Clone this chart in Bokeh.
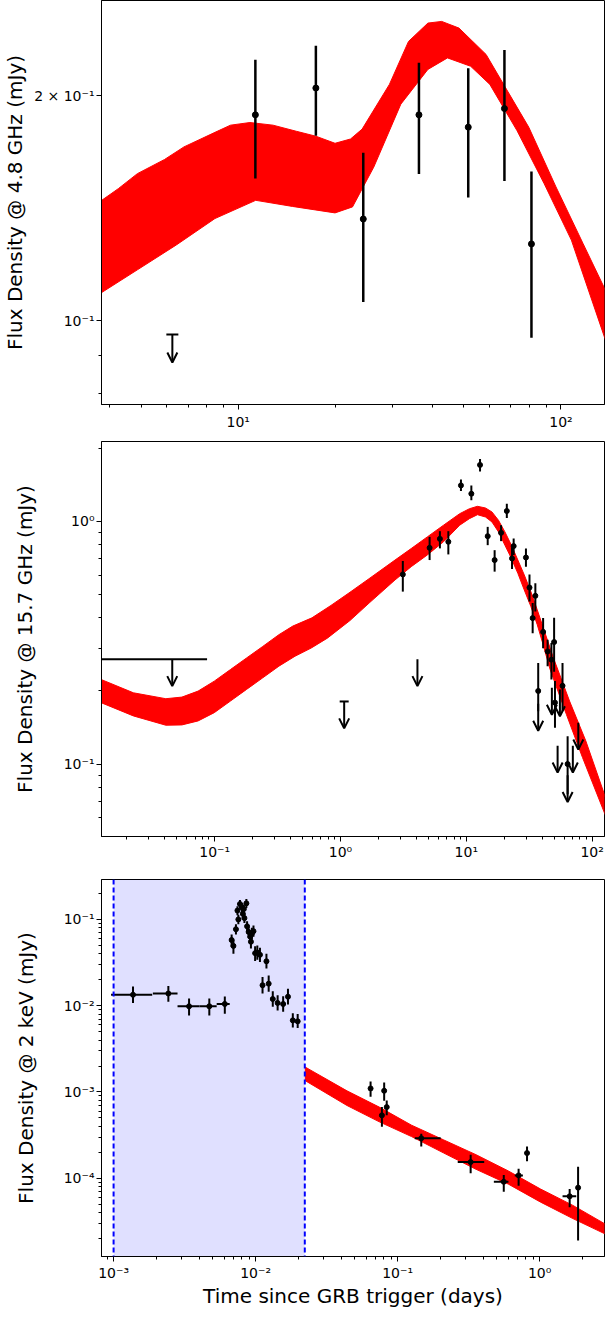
import math
from bokeh.plotting import figure
from bokeh.layouts import column
from bokeh.models import (ColumnDataSource, FixedTicker, CustomJSTickFormatter, Range1d,
                          Arrow, OpenHead, BoxAnnotation, Span)
from bokeh.embed import file_html
from bokeh.resources import INLINE

FONT = "DejaVu Sans"

# ---------------- Panel 1 : 4.8 GHz ----------------
r48_t = [11.3, 17.4, 24.4, 36.3, 51.6, 66.8, 81.0]
r48_f = [0.1885, 0.2047, 0.1368, 0.1885, 0.1815, 0.1922, 0.1267]
r48_lo = [0.155, 0.1768, 0.1060, 0.1571, 0.1462, 0.1538, 0.0949]
r48_hi = [0.2234, 0.2331, 0.1678, 0.2213, 0.2175, 0.2302, 0.1583]
r48_ul_t = [6.25]
r48_ul_f = [0.0959]

band48_up_t = [3.7, 4.25, 4.87, 5.91, 6.79, 8.47, 9.46, 10.87, 12.82, 15.14, 17.4, 19.95,
               22.28, 24.2, 29.4, 33.7, 38.7, 42.7, 48.3, 58.6, 67.3, 79.5, 96.5, 117, 140]
band48_up_f = [0.1440, 0.1502, 0.1573, 0.1643, 0.1708, 0.1786, 0.1826, 0.1841, 0.1826, 0.1792,
               0.1765, 0.1727, 0.175, 0.1804, 0.207, 0.2363, 0.25, 0.2513, 0.2462, 0.227, 0.205,
               0.1814, 0.151, 0.1269, 0.108]
band48_lo_t = [3.7, 4.87, 6.43, 8.47, 11.33, 14.72, 19.95, 22.6, 26.3, 31.9, 38.7, 44.5, 52.5,
               60.2, 73.1, 88.7, 107.7, 140]
band48_lo_f = [0.1085, 0.117, 0.1263, 0.137, 0.1449, 0.1422, 0.1394, 0.142, 0.1605, 0.1948,
               0.2168, 0.2246, 0.2189, 0.207, 0.1795, 0.1525, 0.1282, 0.092]

p1_xticks = [10, 100]
p1_xlabels = ["10¹", "10²"]
p1_yticks = [0.1, 0.2]
p1_ylabels = ["10⁻¹", "2 × 10⁻¹"]

# ---------------- Panel 2 : 15.7 GHz ----------------
r157_t = [3.13, 5.11, 6.17, 7.2, 9.07, 10.97, 12.86, 14.8, 16.8, 18.9, 21.0, 23.1, 23.8, 29.8,
          31.8, 33.7, 35.4, 37.3, 40.8, 44.3, 47.5, 49.9, 50.7, 58.2, 63.9]
r157_f = [0.604, 0.777, 0.846, 0.823, 1.405, 1.298, 1.706, 0.868, 0.692, 0.896, 1.102, 0.703,
          0.79, 0.709, 0.533, 0.399, 0.493, 0.2, 0.35, 0.291, 0.269, 0.318, 0.179, 0.21, 0.1]
r157_lo = [0.513, 0.692, 0.773, 0.73, 1.331, 1.219, 1.603, 0.797, 0.62, 0.828, 1.031, 0.636,
           0.726, 0.65, 0.467, 0.346, 0.425, 0.165, 0.30, 0.253, 0.223, 0.24, 0.141, 0.165, 0.075]
r157_hi = [0.686, 0.862, 0.91, 0.91, 1.486, 1.405, 1.806, 0.948, 0.76, 0.963, 1.18, 0.778,
           0.849, 0.772, 0.604, 0.46, 0.555, 0.261, 0.399, 0.325, 0.315, 0.40, 0.22, 0.261, 0.13]
r157_ul_t = [0.046, 1.07, 4.09, 37.3, 47.9, 55.5, 53.2, 63.9, 70.3, 77.7]
r157_ul_f = [0.27, 0.181, 0.27, 0.177, 0.206, 0.203, 0.119, 0.09, 0.119, 0.148]
r157_ul_tlo = [0.005]
r157_ul_thi = [0.087]
r157_cap_t = [1.07]
r157_cap_f = [0.181]

band157_up_t = [0.0125, 0.0226, 0.0409, 0.0549, 0.0738, 0.0993, 0.1334, 0.1794, 0.241, 0.324,
                0.418, 0.593, 0.84, 1.19, 1.687, 2.713, 3.65, 4.90, 6.59, 8.86, 10.59, 12.27,
                14.21, 16.0, 18.03, 20.28, 22.83, 25.7, 28.9, 32.6, 36.65, 49.3, 66.2, 89.1, 130]
band157_up_f = [0.223, 0.1965, 0.1858, 0.1887, 0.1997, 0.2195, 0.245, 0.2735, 0.305, 0.341,
                0.37, 0.40, 0.45, 0.51, 0.58, 0.692, 0.772, 0.862, 0.963, 1.074, 1.126, 1.152,
                1.134, 1.092, 1.009, 0.904, 0.797, 0.692, 0.601, 0.513, 0.4316, 0.2735, 0.1817,
                0.1246, 0.071]
band157_lo_t = [0.0125, 0.0226, 0.0409, 0.0549, 0.0738, 0.0993, 0.1334, 0.1794, 0.241, 0.324,
                0.435, 0.586, 0.787, 1.19, 1.687, 2.713, 3.65, 4.90, 6.59, 8.86, 10.59, 12.27,
                14.21, 16.0, 18.03, 20.28, 22.83, 25.7, 28.9, 32.6, 36.65, 40.1, 46.4, 62.5,
                83.9, 130]
band157_lo_f = [0.179, 0.1578, 0.1445, 0.1449, 0.1505, 0.1628, 0.1817, 0.203, 0.2265, 0.253,
                0.278, 0.3006, 0.330, 0.39, 0.46, 0.573, 0.650, 0.726, 0.823, 0.963, 1.025,
                1.064, 1.041, 0.993, 0.904, 0.797, 0.703, 0.610, 0.521, 0.4455, 0.375, 0.320,
                0.245, 0.160, 0.1064, 0.060]

p2_xticks = [0.1, 1, 10, 100]
p2_xlabels = ["10⁻¹", "10⁰", "10¹", "10²"]
p2_yticks = [0.1, 1]
p2_ylabels = ["10⁻¹", "10⁰"]

# ---------------- Panel 3 : 2 keV ----------------
x3e_t = [1.37e-3, 2.43e-3, 3.40e-3, 4.72e-3, 6.07e-3]
x3e_tlo = [0.96e-3, 1.89e-3, 2.82e-3, 4.03e-3, 5.32e-3]
x3e_thi = [1.87e-3, 2.82e-3, 4.03e-3, 5.32e-3, 6.57e-3]
x3e_f = [0.01338, 0.01384, 0.00984, 0.00984, 0.01048]
x3e_lo = [0.01076, 0.0111, 0.0077, 0.0077, 0.00806]
x3e_hi = [0.01665, 0.0169, 0.01213, 0.01213, 0.0128]

fl_t = [6.78e-3, 6.98e-3, 7.27e-3, 7.56e-3, 7.45e-3, 7.76e-3, 8.0e-3, 8.13e-3, 8.34e-3, 8.61e-3,
        8.26e-3, 8.71e-3, 8.93e-3, 9.17e-3, 9.41e-3, 9.66e-3, 9.27e-3, 9.92e-3, 0.01028, 0.01073,
        0.01192, 0.01119, 0.01236, 0.01321, 0.01429, 0.01563, 0.0169, 0.01828, 0.01978]
fl_f = [0.0577, 0.0493, 0.0769, 0.1, 0.1266, 0.1507, 0.138, 0.116, 0.1035, 0.1535, 0.132,
        0.0832, 0.0716, 0.063, 0.0686, 0.073, 0.0551, 0.0406, 0.0413, 0.0389, 0.0327, 0.01726,
        0.018, 0.01195, 0.01076, 0.01047, 0.0127, 0.00676, 0.00659]
fl_lo = [0.048, 0.040, 0.067, 0.088, 0.112, 0.134, 0.122, 0.102, 0.091, 0.136, 0.116, 0.072,
         0.061, 0.053, 0.058, 0.063, 0.046, 0.033, 0.034, 0.032, 0.027, 0.0138, 0.0145, 0.0097,
         0.0088, 0.0085, 0.0103, 0.0056, 0.0055]
fl_hi = [0.067, 0.058, 0.088, 0.113, 0.142, 0.168, 0.155, 0.131, 0.117, 0.172, 0.149, 0.095,
         0.083, 0.074, 0.080, 0.085, 0.065, 0.049, 0.050, 0.047, 0.040, 0.0215, 0.0224, 0.0147,
         0.0132, 0.0129, 0.0157, 0.0082, 0.0080]

x3l_t = [0.0645, 0.0804, 0.0838, 0.0775, 0.1467, 0.3267, 0.559, 0.711, 0.815, 1.627, 1.865]
x3l_tlo = [0.0645, 0.0804, 0.0838, 0.0775, 0.132, 0.265, 0.476, 0.668, 0.815, 1.45, 1.865]
x3l_thi = [0.0645, 0.0804, 0.0838, 0.0775, 0.201, 0.407, 0.603, 0.762, 0.815, 1.81, 1.865]
x3l_f = [1.099e-3, 1.033e-3, 6.68e-4, 5.36e-4, 2.91e-4, 1.54e-4, 9.1e-5, 1.08e-4, 1.96e-4,
         6.18e-5, 7.78e-5]
x3l_lo = [8.82e-4, 7.94e-4, 5.36e-4, 3.95e-4, 2.34e-4, 1.14e-4, 7.0e-5, 8.2e-5, 1.58e-4,
          4.6e-5, 1.9e-5]
x3l_hi = [1.32e-3, 1.29e-3, 7.99e-4, 6.68e-4, 3.29e-4, 1.87e-4, 1.09e-4, 1.29e-4, 2.34e-4,
          7.5e-5, 1.36e-4]

band2k_up_t = [0.0224, 0.044, 0.0743, 0.1254, 0.2114, 0.3566, 0.6026, 1.016, 1.714, 3.0]
band2k_up_f = [1.94e-3, 1.03e-3, 6.68e-4, 4.12e-4, 2.78e-4, 1.876e-4, 1.215e-4, 7.5e-5, 4.85e-5,
               2.85e-5]
band2k_lo_t = [0.0224, 0.044, 0.0743, 0.1254, 0.2114, 0.3566, 0.6026, 1.016, 1.714, 3.0]
band2k_lo_f = [1.35e-3, 6.97e-4, 4.51e-4, 3.04e-4, 1.96e-4, 1.27e-4, 8.55e-5, 5.29e-5, 3.41e-5,
               2.2e-5]

shade_t = [1.0e-3, 0.0222]

p3_xticks = [1e-3, 1e-2, 1e-1, 1]
p3_xlabels = ["10⁻³", "10⁻²", "10⁻¹", "10⁰"]
p3_yticks = [1e-4, 1e-3, 1e-2, 1e-1]
p3_ylabels = ["10⁻⁴", "10⁻³", "10⁻²", "10⁻¹"]


# ---------------- helpers ----------------
FMT_CODE = """
let best = -1, bd = 1e9;
for (let i = 0; i < tv.length; i++) {
  const d = Math.abs(Math.log10(tick) - Math.log10(tv[i]));
  if (d < bd) { bd = d; best = i; }
}
return (best >= 0 && bd < 1e-6) ? tl[best] : "";
"""


def minor_ticks(lo, hi, majors):
    out = []
    for e in range(int(math.floor(math.log10(lo))) - 1, int(math.ceil(math.log10(hi))) + 1):
        for m in range(1, 10):
            v = m * 10 ** e
            if lo <= v <= hi and all(abs(math.log10(v) - math.log10(M)) > 1e-6 for M in majors):
                out.append(v)
    return out


def make_fig(height, top, bottom, left, right, xr, yr, xt, xl, yt, yl, ylabel, ystand,
             xstand=2, xlabel=None):
    p = figure(width=608, height=height, x_axis_type="log", y_axis_type="log",
               x_range=Range1d(*xr), y_range=Range1d(*yr),
               min_border_top=top, min_border_bottom=bottom,
               min_border_left=left, min_border_right=right,
               output_backend="svg", toolbar_location=None, tools="")
    p.grid.visible = False
    p.background_fill_color = "white"
    p.border_fill_color = "white"
    p.outline_line_color = "black"
    p.outline_line_alpha = 1.0
    p.outline_line_width = 1
    p.xaxis.ticker = FixedTicker(ticks=xt, minor_ticks=minor_ticks(xr[0], xr[1], xt))
    p.yaxis.ticker = FixedTicker(ticks=yt, minor_ticks=minor_ticks(yr[0], yr[1], yt))
    p.xaxis.formatter = CustomJSTickFormatter(args=dict(tv=xt, tl=xl), code=FMT_CODE)
    p.yaxis.formatter = CustomJSTickFormatter(args=dict(tv=yt, tl=yl), code=FMT_CODE)
    for ax in (p.xaxis, p.yaxis):
        ax.axis_line_color = "black"
        ax.major_tick_line_color = "black"
        ax.minor_tick_line_color = "black"
        ax.major_tick_out = 5
        ax.major_tick_in = 0
        ax.minor_tick_out = 3
        ax.minor_tick_in = 0
        ax.major_label_text_font = FONT
        ax.major_label_text_font_size = "14px"
        ax.major_label_text_color = "black"
        ax.major_label_standoff = 2
        ax.axis_label_text_font = FONT
        ax.axis_label_text_font_size = "20px"
        ax.axis_label_text_font_style = "normal"
        ax.axis_label_text_color = "black"
    p.xaxis.major_label_standoff = xstand
    p.yaxis.axis_label = ylabel
    p.yaxis.axis_label_standoff = ystand
    if xlabel:
        p.xaxis.axis_label = xlabel
        p.xaxis.axis_label_standoff = 0
    return p


def band(p, up_t, up_f, lo_t, lo_f):
    p.patch(x=list(up_t) + list(lo_t)[::-1], y=list(up_f) + list(lo_f)[::-1],
            fill_color="red", line_color="red", line_width=1)


def arrow_factor(height, top, bottom, yr, px):
    decade = (height - top - bottom) / math.log10(yr[1] / yr[0])
    return 10 ** (-px / decade)


def uplims(p, t, f, fac, lw=2):
    src = ColumnDataSource(dict(x=t, y0=f, y1=[v * fac for v in f]))
    p.add_layout(Arrow(end=OpenHead(size=10, line_width=lw, line_color="black"),
                       x_start="x", y_start="y0", x_end="x", y_end="y1", source=src,
                       line_width=lw, line_color="black"))


# ---------------- Panel 1 ----------------
H1, T1, B1 = 432, 0, 28
xr1, yr1 = (3.77, 136.4), (0.0773, 0.268)
p1 = make_fig(H1, T1, B1, 95, 4, xr1, yr1, p1_xticks, p1_xlabels, p1_yticks, p1_ylabels,
              "Flux Density @ 4.8 GHz (mJy)", 4, xstand=4)
band(p1, band48_up_t, band48_up_f, band48_lo_t, band48_lo_f)
p1.segment(x0=r48_t, y0=r48_lo, x1=r48_t, y1=r48_hi, line_color="black", line_width=2.5)
p1.scatter(r48_t, r48_f, size=6, color="black")
uplims(p1, r48_ul_t, r48_ul_f, arrow_factor(H1, T1, B1, yr1, 28), lw=2)
p1.scatter(r48_ul_t, r48_ul_f, marker="dash", size=12, line_width=2, color="black")

# ---------------- Panel 2 ----------------
H2, T2, B2 = 430, 9, 24
xr2, yr2 = (0.0126, 125.5), (0.0503, 2.13)
p2 = make_fig(H2, T2, B2, 89, 0, xr2, yr2, p2_xticks, p2_xlabels, p2_yticks, p2_ylabels,
              "Flux Density @ 15.7 GHz (mJy)", 24, xstand=2)
band(p2, band157_up_t, band157_up_f, band157_lo_t, band157_lo_f)
p2.segment(x0=r157_t, y0=r157_lo, x1=r157_t, y1=r157_hi, line_color="black", line_width=2)
p2.scatter(r157_t, r157_f, size=5, color="black")
p2.segment(x0=r157_ul_tlo, y0=r157_ul_f[:1], x1=r157_ul_thi, y1=r157_ul_f[:1],
           line_color="black", line_width=2)
uplims(p2, r157_ul_t, r157_ul_f, arrow_factor(H2, T2, B2, yr2, 27), lw=2)
p2.scatter(r157_cap_t, r157_cap_f, marker="dash", size=9, line_width=2, color="black")

# ---------------- Panel 3 ----------------
H3, T3, B3 = 448, 17, 48
xr3, yr3 = (8.22e-4, 2.862), (1.24e-5, 0.29)
p3 = make_fig(H3, T3, B3, 88, 0, xr3, yr3, p3_xticks, p3_xlabels, p3_yticks, p3_ylabels,
              "Flux Density @ 2 keV (mJy)", 23, xstand=3, xlabel="Time since GRB trigger (days)")
p3.add_layout(BoxAnnotation(left=shade_t[0], right=shade_t[1], fill_color="blue",
                            fill_alpha=0.12, line_color=None, level="underlay"))
for v in shade_t:
    p3.add_layout(Span(location=v, dimension="height", line_color="blue",
                       line_dash="5 3", line_width=2))
band(p3, band2k_up_t, band2k_up_f, band2k_lo_t, band2k_lo_f)
p3.segment(x0=x3e_tlo, y0=x3e_f, x1=x3e_thi, y1=x3e_f, line_color="black", line_width=2)
p3.segment(x0=x3e_t, y0=x3e_lo, x1=x3e_t, y1=x3e_hi, line_color="black", line_width=2)
p3.scatter(x3e_t, x3e_f, size=5, color="black")
p3.segment(x0=fl_t, y0=fl_lo, x1=fl_t, y1=fl_hi, line_color="black", line_width=2)
p3.scatter(fl_t, fl_f, size=5, color="black")
p3.segment(x0=x3l_tlo, y0=x3l_f, x1=x3l_thi, y1=x3l_f, line_color="black", line_width=2)
p3.segment(x0=x3l_t, y0=x3l_lo, x1=x3l_t, y1=x3l_hi, line_color="black", line_width=2)
p3.scatter(x3l_t, x3l_f, size=5, color="black")

layout = column(p1, p2, p3, spacing=0)
open("out.html", "w").write(file_html(layout, INLINE))
